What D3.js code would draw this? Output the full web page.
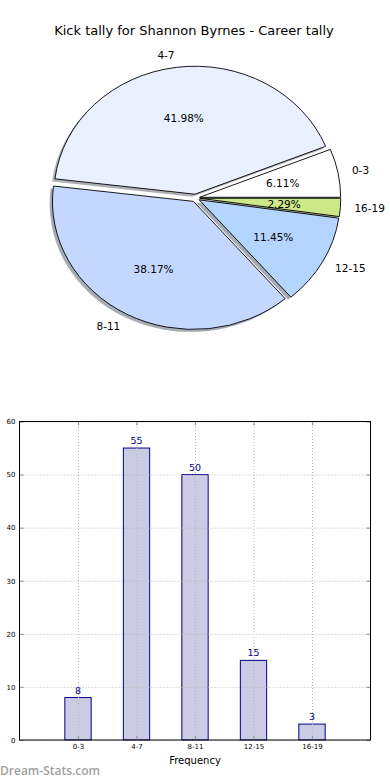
<!DOCTYPE html>
<html>
<head>
<meta charset="utf-8">
<script src="https://cdn.jsdelivr.net/npm/d3@7"></script>
<style>
  html, body { margin: 0; padding: 0; background: #fff; }
  svg { display: block; }
  text { font-family: "DejaVu Sans", sans-serif; }
</style>
</head>
<body>
<div id="chart"></div>
<script>
// ---------------- data ----------------
const title = "Kick tally for Shannon Byrnes - Career tally";
const categories = ["0-3", "4-7", "8-11", "12-15", "16-19"];
const counts = [8, 55, 50, 15, 3];
const pieColors = ["#ffffff", "#e9f0ff", "#c4d8ff", "#b3d5ff", "#cce888"];
const explode = [0.03, 0.03, 0.03, 0.03, 0.03];
const yTicks = [0, 10, 20, 30, 40, 50, 60];
const xLabel = "Frequency";
const watermark = "Dream-Stats.com";

const W = 390, H = 780;
const svg = d3.select("#chart").append("svg").attr("width", W).attr("height", H);

// ---------------- title ----------------
svg.append("text")
  .attr("x", 194).attr("y", 30)
  .attr("text-anchor", "middle").attr("dominant-baseline", "central")
  .style("font-size", "13px").attr("fill", "#000")
  .text(title);

// ---------------- pie (elliptical, matplotlib-like) ----------------
const cx = 195.5, cy = 198, rx = 141, ry = 128;
const total = d3.sum(counts);
const pie = d3.pie().sort(null)
  .startAngle(Math.PI / 2).endAngle(Math.PI / 2 - 2 * Math.PI);
const arcs = pie(counts);
const arcGen = d3.arc().innerRadius(0).outerRadius(1);

const pieG = svg.append("g").attr("transform", `translate(${cx},${cy})`);

function offset(d, i) {
  const m = (d.startAngle + d.endAngle) / 2;
  const e = explode[i];
  return [Math.sin(m) * e, -Math.cos(m) * e];
}

// shadows (below all wedges)
pieG.selectAll("path.shadow").data(arcs).join("path")
  .attr("class", "shadow")
  .attr("d", arcGen)
  .attr("transform", (d, i) => {
    const [ox, oy] = offset(d, i);
    return `scale(${rx},${ry}) translate(${ox - 0.02},${oy + 0.02})`;
  })
  .attr("fill", (d, i) => d3.color(pieColors[i]).darker(2.5))
  .attr("fill-opacity", 0.5)
  .attr("stroke", "none");

// wedges
pieG.selectAll("path.wedge").data(arcs).join("path")
  .attr("class", "wedge")
  .attr("d", arcGen)
  .attr("transform", (d, i) => {
    const [ox, oy] = offset(d, i);
    return `scale(${rx},${ry}) translate(${ox},${oy})`;
  })
  .attr("fill", (d, i) => pieColors[i])
  .attr("stroke", "#000")
  .attr("stroke-width", 0.9)
  .attr("vector-effect", "non-scaling-stroke");

// labels
arcs.forEach((d, i) => {
  const m = (d.startAngle + d.endAngle) / 2;
  const [ox, oy] = offset(d, i);
  const ux = Math.sin(m), uy = -Math.cos(m);
  // outer category labels
  const lx = (ox + 1.1 * ux) * rx, ly = (oy + 1.1 * uy) * ry;
  pieG.append("text")
    .attr("x", lx).attr("y", ly)
    .attr("text-anchor", lx > 0 ? "start" : "end")
    .attr("dominant-baseline", "central")
    .style("font-size", "10.5px")
    .text(categories[i]);
  // percentages
  const px = (ox + 0.6 * ux) * rx, py = (oy + 0.6 * uy) * ry;
  pieG.append("text")
    .attr("x", px).attr("y", py)
    .attr("text-anchor", "middle")
    .attr("dominant-baseline", "central")
    .style("font-size", "10.5px")
    .text((counts[i] / total * 100).toFixed(2) + "%");
});

// ---------------- bar chart ----------------
const L = 19.5, R = 370.5, T = 421.5, B = 740;
const x = d3.scaleLinear().domain([-1, categories.length]).range([L, R]);
const y = d3.scaleLinear().domain([0, 60]).range([B, T]);
const barW = 0.45;

const bar = svg.append("g");

// bars
bar.selectAll("rect.bar").data(counts).join("rect")
  .attr("class", "bar")
  .attr("x", (d, i) => x(i - barW / 2))
  .attr("width", (d, i) => x(i + barW / 2) - x(i - barW / 2))
  .attr("y", d => y(d))
  .attr("height", d => y(0) - y(d))
  .attr("fill", "#cbcbe3")
  .attr("stroke", "#000088")
  .attr("stroke-width", 1);

// grid (on top of bars)
const gridY = d3.axisLeft(y).tickValues(yTicks).tickSize(-(R - L)).tickFormat("");
bar.append("g").attr("transform", `translate(${L},0)`).call(gridY)
  .call(g => g.select(".domain").remove())
  .call(g => g.selectAll("line").attr("stroke", "#b8b8b8").attr("stroke-dasharray", "1,2"));
const gridX = d3.axisBottom(x).tickValues(d3.range(categories.length)).tickSize(-(B - T)).tickFormat("");
bar.append("g").attr("transform", `translate(0,${B})`).call(gridX)
  .call(g => g.select(".domain").remove())
  .call(g => g.selectAll("line").attr("stroke", "#b8b8b8").attr("stroke-dasharray", "1,2"));

// inward tick marks on all four sides
const tickStyle = g => { g.select(".domain").remove(); g.selectAll("line").attr("stroke", "#999").attr("stroke-width", 1.2); };
bar.append("g").attr("transform", `translate(${L},0)`).call(d3.axisLeft(y).tickValues(yTicks).tickSize(-4).tickFormat("")).call(tickStyle);
bar.append("g").attr("transform", `translate(${R},0)`).call(d3.axisRight(y).tickValues(yTicks).tickSize(-4).tickFormat("")).call(tickStyle);
bar.append("g").attr("transform", `translate(0,${B})`).call(d3.axisBottom(x).tickValues(d3.range(categories.length)).tickSize(-4).tickFormat("")).call(tickStyle);
bar.append("g").attr("transform", `translate(0,${T})`).call(d3.axisTop(x).tickValues(d3.range(categories.length)).tickSize(-4).tickFormat("")).call(tickStyle);

// frame
bar.append("rect").attr("x", L).attr("y", T).attr("width", R - L).attr("height", B - T)
  .attr("fill", "none").attr("stroke", "#000").attr("stroke-width", 1);

// tick labels
const yAxis = d3.axisLeft(y).tickValues(yTicks).tickSize(0).tickPadding(4);
bar.append("g").attr("transform", `translate(${L},0)`).call(yAxis)
  .call(g => g.select(".domain").remove())
  .call(g => g.selectAll("text").style("font-size", "7px").style("font-family", "DejaVu Sans").attr("fill", "#000"));
const xAxis = d3.axisBottom(x).tickValues(d3.range(categories.length)).tickFormat(i => categories[i]).tickSize(0).tickPadding(4);
bar.append("g").attr("transform", `translate(0,${B})`).call(xAxis)
  .call(g => g.select(".domain").remove())
  .call(g => g.selectAll("text").style("font-size", "7px").style("font-family", "DejaVu Sans").attr("fill", "#000"));

// value labels
bar.selectAll("text.val").data(counts).join("text")
  .attr("class", "val")
  .attr("x", (d, i) => x(i))
  .attr("y", d => y(d) - 4)
  .attr("text-anchor", "middle")
  .style("font-size", "9.5px")
  .attr("fill", "#000080")
  .text(d => d);

// x label
svg.append("text")
  .attr("x", (L + R) / 2).attr("y", 764)
  .attr("text-anchor", "middle")
  .style("font-size", "10px")
  .text(xLabel);

// watermark
svg.append("text")
  .attr("x", 0).attr("y", 775)
  .style("font-family", "'Open Sans', sans-serif")
  .style("font-size", "12px")
  .style("font-weight", "600")
  .attr("fill", "#a0a0a0")
  .text(watermark);
</script>
</body>
</html>
